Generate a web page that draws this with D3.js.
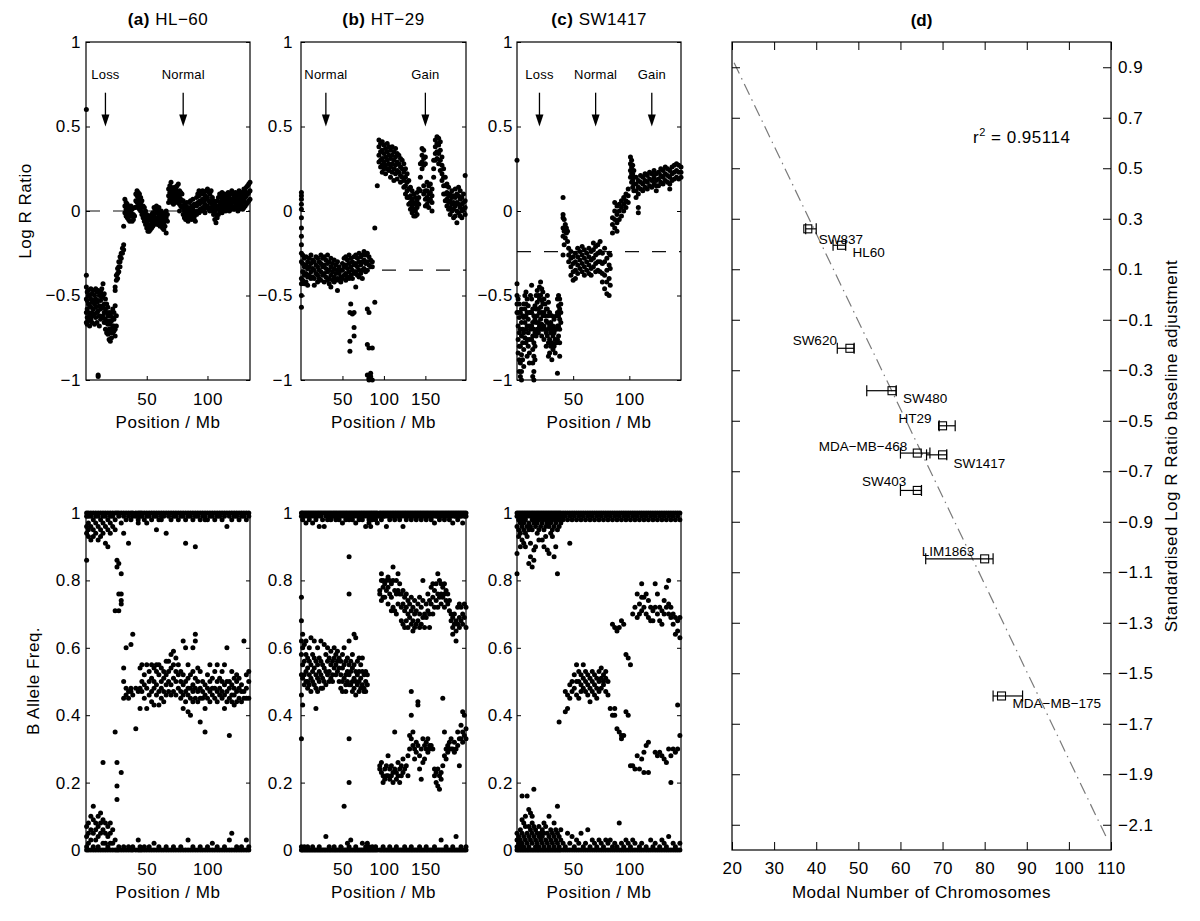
<!DOCTYPE html>
<html><head><meta charset="utf-8">
<script src="https://cdn.jsdelivr.net/npm/d3@7"></script>
<style>body{margin:0;background:#fff}</style>
</head><body>
<svg id="c" width="1200" height="921"></svg>
<script>
// ---------------- DATA ----------------
// Log R Ratio rows: [position Mb, values...]
const lrrA = [
[0.3,0.6,-0.38,-0.45,-0.52,-0.6,-0.66],[1,-0.48,-0.53,-0.58,-0.63,-0.67],[2,-0.47,-0.5,-0.55,-0.6,-0.65],
[3,-0.5,-0.56,-0.62,-0.68],[4,-0.46,-0.52,-0.57,-0.64],[5,-0.49,-0.54,-0.6,-0.66],[6,-0.47,-0.53,-0.58,-0.62],
[7,-0.5,-0.55,-0.61,-0.67],[8,-0.46,-0.52,-0.57,-0.63],[9,-0.48,-0.54,-0.6,-0.66],[10,-0.47,-0.53,-0.59,-0.97,-0.98],
[11,-0.5,-0.56,-0.62,-0.68],[12,-0.48,-0.53,-0.58,-0.64],[13,-0.46,-0.51,-0.57,-0.63],[14,-0.43,-0.5,-0.56,-0.62],
[15,-0.49,-0.55,-0.6,-0.66],[16,-0.52,-0.58,-0.64,-0.7],[17,-0.55,-0.6,-0.66,-0.72],[18,-0.57,-0.62,-0.67,-0.73],
[19,-0.6,-0.65,-0.7,-0.76],[20,-0.62,-0.67,-0.72,-0.77],[21,-0.6,-0.65,-0.7,-0.75],[22,-0.58,-0.63,-0.68,-0.72],
[23,-0.6,-0.64,-0.68,-0.71],[24,-0.45,-0.47,-0.56,-0.7,-0.74],[25,-0.38,-0.41,-0.62,-0.68],[26,-0.34,-0.37,-0.4],
[27,-0.3,-0.33,-0.36],[28,-0.27,-0.3,-0.33],[29,-0.25,-0.28],[30,-0.22,-0.25],[31,-0.2,-0.23,-0.09],
[32,0.07,0.03,-0.01],[33,0.05,0.01,-0.03],[34,0.04,0,-0.04],[35,0.02,-0.02,-0.05],[36,0,-0.03,-0.06],
[37,0.03,-0.01],[38,0.01,-0.03,-0.06],[39,-0.02,-0.05],[40,0.02,-0.03],[41,0.1,0.06,0.02],[42,0.12,0.09,0.05],
[43,0.11,0.07,0.03],[44,0.1,0.06,0.01],[45,0.08,0.04,0],[46,0.06,0.02,-0.02],[47,0.03,-0.01,-0.04],
[48,0.02,-0.03,-0.06],[49,0,-0.04,-0.08],[50,-0.02,-0.06,-0.1],[51,-0.04,-0.08,-0.12],[52,-0.05,-0.09,-0.12],
[53,-0.03,-0.08,-0.11],[54,-0.02,-0.06,-0.1],[55,-0.01,-0.05,-0.09],[56,0.02,-0.03,-0.08],[57,0.01,-0.04,-0.07],
[58,0.03,-0.01,-0.05],[59,0,-0.04,-0.08],[60,0.02,-0.03,-0.07],[61,-0.01,-0.05,-0.09],[62,0,-0.04,-0.08],
[63,-0.02,-0.06,-0.1],[64,-0.03,-0.07,-0.11],[65,-0.01,-0.05,-0.09],[66,0,-0.04,-0.13],[67,-0.02,-0.06],
[68,0.05,0.09,0.13],[69,0.07,0.11,0.15],[70,0.06,0.1,0.14,0.17],[71,0.05,0.09,0.13],[72,0.04,0.08,0.12],
[73,0.06,0.1,0.14],[74,0.05,0.09,0.13],[75,0.07,0.11,0.15],[76,0.06,0.1,0.16],[77,0,0.04,0.08,0.12],
[78,0.03,0.07,0.11],[79,0.02,0.06,0.1],[80,-0.02,0.02,0.06],[81,-0.04,0,0.04],[82,-0.05,-0.01,0.03],
[83,-0.03,0.01,0.05],[84,-0.06,-0.02,0.02],[85,-0.04,0,0.05],[86,-0.03,0.01,0.06],[87,-0.05,-0.01,0.03],
[88,-0.02,0.02,0.07],[89,-0.04,0,0.04],[90,-0.06,-0.01,0.04],[91,-0.02,0.03,0.08],[92,0,0.05,0.1],
[93,-0.01,0.04,0.09,0.12],[94,0.01,0.06,0.11],[95,0,0.05,0.1],[96,0.02,0.07,0.12],[97,0.01,0.06,0.1],
[98,-0.01,0.04,0.09],[99,0.02,0.07,0.12],[100,0.03,0.08,0.13],[101,0.01,0.06,0.11],[102,0,0.05,0.1],
[103,0.02,0.06,0.12],[104,0,0.04,0.08],[105,-0.02,0.02,0.06],[106,-0.05,0,0.04],[107,-0.07,-0.02,0.03],
[108,-0.04,0.01,0.06],[109,-0.02,0.03,0.08],[110,0,0.05,0.1],[111,0.01,0.05,0.09],[112,-0.01,0.03,0.07,0.11],
[113,0,0.04,0.09],[114,0.02,0.06,0.1],[115,0,0.04,0.08],[116,0.01,0.05,0.09],[117,0.02,0.06,0.11],
[118,0,0.04,0.08],[119,0.01,0.05,0.1],[120,0.03,0.07,0.12],[121,0.02,0.06,0.1],[122,0.01,0.05,0.09],
[123,0.03,0.07,0.11],[124,0.02,0.06,0.1],[125,0,0.04,0.08],[126,0.01,0.05,0.09,0.12],[127,0.02,0.06,0.1],
[128,0.03,0.07,0.11],[129,0.01,0.05,0.09],[130,0.02,0.06,0.1,0.13],[131,0.03,0.08,0.12],[132,0.04,0.09,0.14],
[133,0.05,0.1,0.15],[134,0.06,0.11,0.16],[135,0.07,0.12,0.17]
];
const lrrB = [
[0.5,0.11,0.09,0.07,0.04,0.01,-0.04,-0.1,-0.15,-0.2,-0.25,-0.3,-0.4,-0.43,-0.5,-0.57],
[2,-0.26,-0.31,-0.36,-0.41],[4,-0.28,-0.33,-0.38,-0.43],[6,-0.27,-0.32,-0.37,-0.42],[8,-0.3,-0.34,-0.39,-0.44],
[10,-0.28,-0.33,-0.38],[12,-0.26,-0.31,-0.36,-0.4],[14,-0.29,-0.34,-0.39],[16,-0.3,-0.35,-0.4,-0.44],
[18,-0.27,-0.32,-0.37],[20,-0.28,-0.33,-0.38,-0.42],[22,-0.3,-0.35,-0.4],[24,-0.26,-0.31,-0.36,-0.41],
[26,-0.28,-0.33,-0.38],[28,-0.27,-0.32,-0.37,-0.42],[30,-0.29,-0.34,-0.39],[32,-0.26,-0.31,-0.36,-0.41],
[34,-0.3,-0.35,-0.4,-0.43],[36,-0.28,-0.33,-0.38,-0.45],[38,-0.31,-0.36,-0.41],[40,-0.29,-0.34,-0.39,-0.42],
[42,-0.32,-0.37,-0.41],[44,-0.3,-0.35,-0.4,-0.47],[46,-0.33,-0.37,-0.41],[48,-0.35,-0.39,-0.42],
[50,-0.31,-0.35,-0.4],[52,-0.28,-0.33,-0.38],[54,-0.27,-0.32,-0.37,-0.41],[56,-0.29,-0.34,-0.39],
[58,-0.26,-0.31,-0.36,-0.4],[59,-0.6,-0.77,-0.83],[60,-0.28,-0.33,-0.38,-0.55],[62,-0.3,-0.35,-0.4,-0.61],
[64,-0.27,-0.32,-0.37,-0.6,-0.69,-0.74],[66,-0.26,-0.31,-0.36,-0.45],[68,-0.28,-0.33,-0.38],
[70,-0.25,-0.3,-0.35,-0.39],[72,-0.27,-0.32,-0.37],[74,-0.26,-0.3,-0.35,-0.4],[76,-0.24,-0.29,-0.34],
[78,-0.26,-0.31,-0.36],[80,-0.25,-0.3,-0.35,-0.58,-0.79,-0.97],[82,-0.27,-0.32,-0.6,-0.81,-0.99,-1],
[84,-0.29,-0.33,-0.98,-0.96],[86,-0.3,-0.33,-0.81,-1],[89,-0.1,-0.54],
[92,0.15],[94,0.42,0.38,0.33,0.29],[96,0.4,0.35,0.3,0.26],[98,0.41,0.36,0.31,0.27,0.23],[100,0.39,0.34,0.29,0.25],
[102,0.37,0.32,0.27,0.22],[104,0.4,0.35,0.3,0.25],[106,0.38,0.33,0.28,0.24],[108,0.36,0.31,0.26,0.2],
[110,0.38,0.33,0.28,0.23],[112,0.35,0.3,0.25,0.18],[114,0.37,0.32,0.27,0.22],[116,0.34,0.29,0.24,0.19],
[118,0.33,0.28,0.23],[120,0.31,0.26,0.21,0.17],[122,0.3,0.25,0.2],[124,0.28,0.23,0.18,0.14],
[126,0.25,0.2,0.15,0.1],[128,0.22,0.17,0.12,0.08],[130,0.18,0.13,0.08,0.04],[132,0.14,0.09,0.05,0.01],
[134,0.12,0.07,0.03,-0.01],[136,0.1,0.05,0.01,-0.03],[138,0.08,0.04,0,-0.03],[140,0.11,0.06,0.02,-0.02],
[142,0.13,0.08,0.04],[144,0.2,0.28,0.12],[146,0.37,0.33,0.29,0.25],[148,0.36,0.31,0.27,0.15,0.1],
[150,0.32,0.28,0.12,0.07,0.03],[152,0.17,0.12,0.08,0.04],[154,0.15,0.1,0.06,0.02],[156,0.16,0.11,0.07],
[158,0.13,0.09,0.05,0],[160,0.3,0.25,0.2],[162,0.42,0.38,0.34,0.3],[164,0.44,0.4,0.35,0.31],
[166,0.43,0.39,0.34,0.28],[168,0.41,0.36,0.3,0.24],[170,0.32,0.27,0.22,0.18],[172,0.25,0.2,0.15,0.1],
[174,0.2,0.15,0.1,0.06],[176,0.16,0.11,0.07,0.03],[178,0.14,0.09,0.05,0.01],[180,0.1,0.06,0.02,-0.02],
[182,0.12,0.08,0.04,0],[184,0.09,0.05,0.01,-0.04],[186,0.13,0.08,0.03,-0.03],[188,0.1,0.05,0,-0.07],
[190,0.14,0.09,0.04,-0.01],[192,0.12,0.07,0.02,-0.03],[194,0.08,0.04,0,-0.04],[196,0.1,0.05,0.01],
[198,0.21,0.06,0.02,-0.02]
];
const lrrC = [
[0,0.3,-0.43,-0.5,-0.55,-0.6],[1,-0.52,-0.6,-0.68,-0.76,-0.84],[2,-0.55,-0.63,-0.72,-0.8,-0.88,-0.95],
[3,-0.6,-0.7,-0.8,-0.9,-0.98],[4,-0.58,-0.66,-0.74,-0.85,-0.95,-1],[5,-0.62,-0.7,-0.78,-0.88],
[6,-0.55,-0.63,-0.72,-0.82,-0.92],[7,-0.5,-0.58,-0.66,-0.75],[8,-0.48,-0.55,-0.62,-0.7,-0.78],
[9,-0.52,-0.6,-0.68,-0.76,-0.86],[10,-0.56,-0.64,-0.72,-0.8],[11,-0.6,-0.68,-0.76,-0.84,-0.9],
[12,-0.5,-0.6,-0.7],[13,-0.44,-0.52,-0.6,-0.68,-0.76],[14,-0.58,-0.66,-0.74,-0.82,-0.9,-0.98],
[15,-0.62,-0.7,-0.78,-0.86,-0.95,-1],[16,-0.56,-0.64,-0.72,-0.8,-0.88],[17,-0.5,-0.58,-0.66,-0.74],
[18,-0.47,-0.54,-0.62,-0.7],[19,-0.5,-0.58,-0.66,-0.72],[20,-0.45,-0.52,-0.6,-0.68],
[21,-0.42,-0.5,-0.57,-0.64,-0.7],[22,-0.46,-0.53,-0.6,-0.67,-0.74],[23,-0.48,-0.55,-0.62,-0.7],
[24,-0.52,-0.6,-0.68,-0.76],[25,-0.55,-0.62,-0.7],[26,-0.58,-0.65,-0.72,-0.8],[27,-0.5,-0.58,-0.66,-0.74],
[28,-0.54,-0.62,-0.7,-0.78,-0.86],[29,-0.6,-0.68,-0.76,-0.84],[30,-0.66,-0.72,-0.8],[31,-0.62,-0.7,-0.78,-0.88],
[32,-0.68,-0.74,-0.82],[33,-0.64,-0.72,-0.8],[34,-0.7,-0.76,-0.84],[35,-0.62,-0.7,-0.78],
[36,-0.52,-0.6,-0.68,-0.76,-0.96],[37,-0.5,-0.56,-0.62,-0.68,-0.74],[38,-0.52,-0.58,-0.64,-0.7,-0.78,-0.86],
[39,-0.55,-0.6,-0.66],[41,0.08,-0.02,-0.04,-0.1,-0.15,-0.26],[42,-0.05,-0.12,-0.2],[43,-0.08,-0.16],
[44,-0.1,-0.13],[45,-0.12,-0.18],[46,-0.22,-0.26,-0.3],[48,-0.24,-0.28,-0.33,-0.38],[50,-0.27,-0.31,-0.36,-0.41],
[52,-0.25,-0.3,-0.35,-0.4],[54,-0.22,-0.27,-0.32,-0.37],[56,-0.24,-0.29,-0.34],[58,-0.21,-0.26,-0.31,-0.36],
[60,-0.23,-0.28,-0.33,-0.38],[62,-0.25,-0.3,-0.35],[64,-0.22,-0.27,-0.32,-0.37],[66,-0.24,-0.29,-0.34,-0.38],
[68,-0.19,-0.23,-0.28,-0.33],[70,-0.21,-0.26,-0.31,-0.36],[72,-0.2,-0.25,-0.3,-0.35],[74,-0.18,-0.24,-0.3,-0.36],
[76,-0.25,-0.31,-0.37,-0.42],[78,-0.22,-0.3,-0.38,-0.46],[80,-0.28,-0.35,-0.42,-0.49],[82,-0.25,-0.32,-0.4,-0.5],
[83,-0.26,-0.34,-0.44],[85,-0.13,-0.08,-0.04],[87,-0.1,-0.05,0,0.05],[89,-0.12,-0.07,-0.02,0.03],
[91,-0.05,0,0.04],[93,-0.03,0.02,0.06],[95,0,0.04,0.08],[97,0.02,0.06,0.1],[99,0.05,0.09,0.13],
[101,0.32,0.28,0.24,0.2],[102,0.3,0.26,0.22,0.17],[103,0.27,0.22,0.18,0.14],[104,0.24,0.2,0.16,0.12],
[106,0.2,0.16,0.12,0.08],[108,0.18,0.14,0.1,0.02,-0.01],[110,0.21,0.17,0.13],[112,0.2,0.16,0.12],
[114,0.22,0.18,0.14],[116,0.21,0.17,0.13],[118,0.23,0.19,0.15],[120,0.22,0.18,0.14],[122,0.24,0.2,0.16],
[124,0.22,0.18,0.15,0.12],[126,0.23,0.19,0.15],[128,0.25,0.21,0.17],[130,0.24,0.2,0.16],[132,0.26,0.22,0.18],
[134,0.25,0.21,0.17],[136,0.24,0.2,0.16,0.13],[138,0.26,0.22,0.18],[140,0.27,0.23,0.19],[142,0.28,0.24,0.2],
[144,0.27,0.23,0.19],[146,0.26,0.23,0.2]
];
// B Allele Frequency rows: [position Mb, values...]
const bafA = [
[0.5,1,.99,.96,.94,.86,.07,.04,.01,0],[2,1,.99,.97,.95,.93,.08,.05,.02,0],[4,1,.99,.96,.92,.1,.06,.03,0],
[6,1,.98,.95,.93,.13,.09,.05,.01,0],[8,1,.99,.97,.94,.08,.06,.03,0],[10,1,.99,.96,.92,.1,.07,.04,.01,0],
[12,1,.98,.95,.93,.11,.08,.05,0],[14,1,.99,.97,.94,.26,.09,.06,.02,0],[16,1,.99,.96,.91,.08,.05,.02,0],
[18,1,.98,.95,.9,.07,.04,.01,0],[20,1,.99,.97,.94,.08,.05,.02,0],[22,1,.99,.96,.06,.02,0],
[24,1,.98,.95,.71,.35,.03,0],[25.5,1,.86,.84,.26,.19,.15,0],[27,1,.99,.85,.76,.71,.01,0],
[29,1,.97,.82,.76,.74,.73,.23,0],[31,1,.99,.94,.54,.5,.45,.01,0],[33,1,.98,.6,.48,.46,0],
[35,1,.99,.91,.47,.45,.01,0],[37,1,.98,.61,.48,.47,0],[38.5,1,.99,.64,.46,.01,0],[41,1,.99,.48,.36,0],
[43,1,.98,.97,.47,.03,0],[44.5,1,.99,.48,.54,.42,0,.01],[46,1,.99,.47,.5,.55,0],[48,1,.98,.45,.49,.52,.01,0],
[50,1,.99,.97,.42,.48,.55,0],[52,1,.99,.46,.5,.53,0,.01],[54,1,.98,.44,.47,.51,.55,0],
[56,1,.99,.43,.48,.5,.54,.02,0],[58,1,.99,.95,.46,.49,.53,.55,0],[60,1,.98,.43,.47,.52,.55,0,.01],
[62,1,.99,.98,.45,.48,.5,.54,0],[64,1,.99,.44,.47,.51,.53,0],[66,1,.94,.46,.49,.52,.56,.01,0],
[68,1,.99,.47,.5,.53,.56,0],[70,1,.98,.46,.49,.54,.58,0],[72,1,.99,.47,.51,.55,.59,0,.01],
[74,1,.99,.46,.5,.53,.57,0],[76,1,.98,.48,.52,.55,0],[78,1,.99,.45,.47,.5,.53,.01,0],
[80,1,.99,.42,.46,.49,.52,.62,0],[82,1,.98,.91,.44,.47,.5,.6,0],[84,1,.99,.41,.46,.48,.51,.55,.03,0],
[86,1,.99,.4,.45,.48,.52,0],[88,1,.98,.44,.47,.49,.53,.6,0,.01],[90,1,.99,.9,.45,.48,.51,.62,.64,0],
[92,1,.99,.44,.47,.5,.54,0],[94,1,.98,.38,.45,.48,.53,.01,0],[96,1,.99,.45,.47,.5,0],
[98,1,.99,.98,.35,.42,.46,.49,0],[100,1,.98,.45,.48,.52,.01,0],[102,1,.99,.44,.47,.5,.55,0],
[104,1,.99,.46,.48,.51,.02,0],[106,1,.98,.45,.48,.53,0],[108,1,.99,.44,.47,.5,.55,0,.01],
[110,1,.99,.46,.48,.51,0],[112,1,.98,.45,.47,.5,.53,0],[114,1,.99,.42,.46,.49,.55,.01,0],
[116,1,.96,.44,.47,.5,.6,0],[118,1,.99,.34,.45,.48,.5,.03,0],[120,1,.98,.44,.46,.49,.53,.05,0],
[122,1,.99,.43,.46,.48,.51,0],[124,1,.99,.44,.47,.5,.52,.01,0],[126,1,.98,.45,.48,.51,0],
[128,1,.99,.44,.47,.49,0,.01],[130,1,.99,.45,.47,.62,0],[132,1,.98,.45,.48,.52,.03,0],[134,1,.99,.45,.5,.53,.01,0]
];
const bafB = [
[0.5,1,.99,.75,.68,.62,.58,.52,.46,.33,.01,0],[2,1,.98,.64,.6,.55,.51,.43,0],[4,1,.99,.61,.56,.52,.49,0,.01],
[6,1,.97,.62,.58,.53,.5,0],[8,1,.99,.57,.54,.5,.48,.01,0],[10,1,.98,.6,.56,.52,.49,0],[12,1,.99,.63,.55,.51,.47,0],
[14,1,.97,.58,.53,.5,0,.01],[16,1,.99,.62,.57,.54,.49,0],[18,1,.98,.56,.52,.48,.42,0],[20,1,.99,.6,.55,.51,.47,0],
[22,1,.96,.57,.53,.5,0,.01],[24,1,.99,.62,.56,.52,.48,0],[26,1,.98,.55,.51,.48,0],[28,1,.96,.61,.54,.5,0],
[30,1,.99,.58,.53,.49,.04,0],[32,1,.98,.6,.56,.52,0],[34,1,.99,.57,.53,.5,.01,0],[36,1,.98,.59,.55,.51,0],
[38,1,.99,.56,.52,.5,0],[40,1,.99,.6,.57,.54,.01,0],[42,1,.98,.58,.55,.52,0],[44,1,.99,.59,.56,.53,0],
[46,1,.98,.57,.54,.5,0],[48,1,.99,.56,.52,.48,.01,0],[50,1,.97,.58,.54,.5,.47,0],[52,1,.99,.6,.55,.51,.13,0],
[54,1,.98,.56,.52,.49,.47,0],[56,1,.99,.57,.53,.5,.02,0],[58,1,.98,.87,.76,.62,.55,.52,.49,.33,.2,.01,0],
[60,1,.99,.56,.53,.49,.03,0],[62,1,.98,.58,.54,.5,.47,0],[64,1,.99,.64,.55,.51,.48,0],[66,1,.97,.63,.53,.5,.46,.01,0],
[68,1,.99,.56,.52,.49,0],[70,1,.98,.57,.53,.5,.47,0],[72,1,.99,.55,.51,.48,0],[74,1,.98,.57,.53,.49,.02,0],
[76,1,.99,.52,.48,.47,0],[78,1,.96,.53,.5,.47,.01,0],[80,1,.99,.52,.49,.02,0],[82,1,.98,.97,.01,0],
[84,1,.99,.96,0],[86,1,.99,.98,.01,0],[88,1,.99,0],[90,1,.98,.01,0],[92,1,.99,.97,0],
[95,1,.99,.77,.76,.24,.25,0],[97,1,.98,.8,.82,.74,.26,.23,0],[99,1,.99,.8,.78,.75,.22,.2,.01,0],
[101,1,.99,.79,.75,.24,.21,0],[103,1,.96,.8,.77,.25,.22,0],[105,1,.99,.81,.78,.73,.28,.22,0],
[107,1,.98,.8,.76,.24,.21,.01,0],[109,1,.99,.79,.75,.71,.25,.22,0],[111,1,.99,.84,.8,.72,.23,.2,0],
[113,1,.98,.77,.71,.35,.24,0],[115,1,.99,.8,.76,.7,.21,.23,.01,0],[117,1,.99,.82,.77,.73,.26,.22,0],
[119,1,.98,.79,.76,.24,.2,0],[121,1,.99,.76,.72,.68,.25,.22,0],[123,1,.96,.77,.73,.67,.27,.23,0],
[125,1,.99,.75,.71,.66,.24,.01,0],[127,1,.98,.76,.72,.68,.25,0],[129,1,.99,.74,.7,.66,.28,.22,0],
[131,1,.99,.73,.69,.34,.3,0],[133,1,.98,.75,.71,.67,.47,.4,.33,.01,0],[135,1,.99,.72,.68,.65,.35,.31,0],
[137,1,.99,.74,.7,.66,.3,.27,0],[139,1,.98,.71,.67,.32,.29,0],[141,1,.99,.73,.68,.44,.43,.31,0],
[143,1,.99,.75,.7,.66,.28,.24,.01,0],[145,1,.98,.72,.67,.3,.21,0],[147,1,.99,.8,.74,.69,.33,.26,0],
[149,1,.99,.7,.66,.31,.27,0],[151,1,.98,.73,.69,.32,.3,.01,0],[153,1,.99,.76,.71,.33,.29,0],
[155,1,.99,.74,.7,.66,.31,.3,0],[157,1,.98,.78,.73,.31,0],[159,1,.99,.79,.75,.7,.3,0],
[161,1,.97,.77,.72,.24,.22,.01,0],[163,1,.99,.79,.74,.23,.2,0],[165,1,.99,.82,.76,.72,.24,.19,0],
[167,1,.98,.8,.75,.22,.18,0],[169,1,.99,.79,.76,.73,.23,.21,.03,0],[171,1,.99,.78,.75,.45,.25,0],
[173,1,.98,.79,.76,.72,.35,.28,0],[175,1,.99,.77,.74,.3,.27,.01,0],[177,1,.99,.76,.73,.31,.29,0],
[179,1,.98,.74,.71,.32,.3,0],[181,1,.99,.7,.68,.33,.3,0],[183,1,.97,.69,.66,.64,.3,.01,0],
[185,1,.99,.7,.67,.32,.29,0],[187,1,.99,.68,.65,.62,.3,.04,0],[189,1,.98,.72,.67,.35,.31,0],
[191,1,.99,.73,.69,.66,.33,.25,0],[193,1,.99,.72,.68,.37,.33,.01,0],[195,1,.97,.7,.67,.41,.35,.32,0],
[197,1,.99,.73,.69,.4,.34,0],[199,1,.99,.72,.66,.36,.33,.01,0]
];
const bafC = [
[0,1,.99,.96,.88,.82,.05,.03,.01,0],[1.5,1,.98,.95,.93,.04,.02,0],[3,1,.99,.97,.94,.9,.06,.03,.01,0],
[4.5,1,.98,.96,.92,.16,.09,.05,.02,0],[6,1,.99,.97,.95,.91,.08,.04,.01,0],[7.5,1,.98,.94,.9,.1,.07,.03,0],
[9,1,.99,.96,.93,.16,.05,.02,0],[10.5,1,.97,.95,.85,.12,.07,.04,.01,0],[12,1,.99,.96,.91,.87,.11,.06,.03,0],
[13.5,1,.98,.95,.84,.1,.08,.05,.02,0],[15,1,.99,.97,.89,.86,.18,.07,.04,0],[16.5,1,.98,.96,.9,.06,.03,.01,0],
[18,1,.99,.97,.94,.05,.02,0],[19.5,1,.98,.95,.92,.07,.04,.01,0],[21,1,.99,.96,.05,.03,0],
[22.5,1,.98,.97,.92,.06,.04,.02,0],[24,1,.99,.95,.9,.08,.05,.01,0],[25.5,1,.98,.96,.93,.07,.03,0],
[27,1,.99,.97,.89,.05,.02,0],[28.5,1,.98,.96,.88,.1,.04,.01,0],[30,1,.99,.97,.94,.06,.03,0],
[31.5,1,.98,.95,.93,.05,.02,0],[33,1,.99,.96,.87,.08,.04,.01,0],[34.5,1,.98,.97,.9,.06,.03,0],
[36,1,.99,.95,.82,.13,.05,.02,0],[37.5,1,.98,.96,.38,.04,.01,0],[39,1,.99,.97,.06,.03,0],[41,1,.99,.98,.02,0],
[43,1,.99,.47,.41,.01,0],[45,1,.98,.46,.42,.05,0],[47,1,.99,.91,.49,.45,.02,0],[49,1,.98,.5,.47,.04,0],
[51,1,.99,.52,.48,.01,0],[53,1,.98,.55,.5,.46,.03,0],[55,1,.99,.53,.5,.45,.02,0],[57,1,.98,.52,.49,.47,.05,0],
[59,1,.99,.55,.51,.48,.01,0],[61,1,.98,.53,.5,.47,.02,0],[63,1,.99,.52,.49,.46,.06,0],[65,1,.98,.51,.48,.44,.01,0],
[67,1,.99,.53,.5,.47,.03,0],[69,1,.98,.52,.49,.46,.02,0],[71,1,.99,.51,.48,.45,.01,0],[73,1,.98,.53,.5,.47,.03,0],
[75,1,.99,.54,.51,.48,.02,0],[77,1,.98,.52,.5,.49,.01,0],[79,1,.99,.53,.51,.47,.03,0],[81,1,.98,.5,.46,.02,0],
[83,1,.99,.42,.03,0],[85,1,.98,.67,.4,.01,0],[87,1,.99,.66,.4,.42,.02,0],[89,1,.98,.65,.36,.01,0],
[91,1,.99,.66,.35,.08,0],[93,1,.98,.68,.34,.33,.02,0],[95,1,.99,.67,.34,.01,0],[97,1,.98,.58,.41,.03,0],
[99,1,.99,.57,.4,.02,0],[101,1,.98,.55,.25,.01,0],[103,1,.99,.7,.25,.03,0],[105,1,.98,.72,.24,.02,0],
[107,1,.99,.76,.69,.28,0],[109,1,.98,.73,.7,.24,.01,0],[111,1,.99,.79,.75,.71,.27,.02,0],
[113,1,.98,.75,.72,.29,.23,0],[115,1,.99,.76,.7,.31,.01,0],[117,1,.98,.74,.69,.32,.23,0],
[119,1,.99,.72,.68,.03,0],[121,1,.98,.71,.68,.01,0],[123,1,.99,.79,.72,.29,.02,0],[125,1,.98,.76,.7,.28,0],
[127,1,.99,.72,.68,.29,.01,0],[129,1,.98,.71,.67,.28,.03,0],[131,1,.99,.74,.7,.27,.02,0],
[133,1,.98,.78,.72,.26,.01,0],[135,1,.99,.8,.73,.7,.3,.04,0],[137,1,.98,.72,.69,.2,.28,0],
[139,1,.99,.7,.67,.3,.02,0],[141,1,.98,.69,.64,.29,.01,0],[143,1,.99,.68,.65,.43,.3,0],[145,1,.98,.69,.63,.34,.02,0]
];
// panel titles / annotations
const panelLetters = ["(a)", "(b)", "(c)"];
const panelNames = ["HL\u221260", "HT\u221229", "SW1417"];
const chrLength = [135, 199, 146];
const lrrBaselines = [0, -0.35, -0.24];
const arrowPos = [[16, 80], [30, 150], [20, 70, 120]];
const arrowLab = [["Loss", "Normal"], ["Normal", "Gain"], ["Loss", "Normal", "Gain"]];
const lrrTicks = [-1, -0.5, 0, 0.5, 1];
const bafTicks = [0, 0.2, 0.4, 0.6, 0.8, 1];
const posTicks = [[50, 100], [50, 100, 150], [50, 100]];
// panel (d)
const cellLines = ["SW837", "HL60", "SW620", "SW480", "HT29", "MDA\u2212MB\u2212468", "SW1417", "SW403", "LIM1863", "MDA\u2212MB\u2212175"];
const modalNum = [38, 46, 48, 58, 70, 64, 70, 64, 80, 84];
const modalLo = [37.5, 44, 45, 52, 69.2, 60, 66.2, 60, 66, 82];
const modalHi = [40, 47, 49, 59, 73, 67, 71, 65, 82, 89];
const baselineAdj = [0.26, 0.195, -0.213, -0.381, -0.52, -0.628, -0.635, -0.776, -1.047, -1.59];
const modalTicks = [20, 30, 40, 50, 60, 70, 80, 90, 100, 110];
const adjTicks = [0.9, 0.7, 0.5, 0.3, 0.1, -0.1, -0.3, -0.5, -0.7, -0.9, -1.1, -1.3, -1.5, -1.7, -1.9, -2.1];
const regSlope = -0.0347, regIntercept = 1.629, regRange = [20.5, 109];
const rSquared = "0.95114";

// ---------------- LAYOUT ----------------
const FONT = '"Liberation Sans", Arial, Helvetica, sans-serif';
const LS = "0.5px";
const colX = [[86, 250], [301, 466], [517, 681]];
const labPad = [5, 8, 4];
const topY = [380, 42], botY = [850, 513];
// label placement offsets for panel (d) [dx, dy, anchor]
const labOff = [[11, 15, "start"], [11, 12, "start"], [-13, -3, "end"], [11, 12, "start"], [-11, -3, "end"],
  [-10, -2, "end"], [11, 13, "start"], [-11, -4, "end"], [-63, -3, "start"], [11, 12, "start"]];

const svg = d3.select("#c");
const fmt = d => (d < 0 ? "\u2212" : "") + Math.abs(d);

function styleAxis(sel, size) {
  sel.attr("font-family", FONT).attr("font-size", size).style("letter-spacing", LS);
  sel.select(".domain").remove();
  sel.selectAll("line").attr("stroke", "#000");
  sel.selectAll("text").attr("fill", "#000");
}

function scatterPanel(i, rows, yRange, yDomain, yTicks, baseline, xlabelY) {
  const x = d3.scaleLinear().domain([0, chrLength[i]]).range(colX[i]);
  const y = d3.scaleLinear().domain(yDomain).range(yRange);
  const g = svg.append("g");
  if (baseline !== null) {
    g.append("line").attr("x1", colX[i][0]).attr("x2", colX[i][1])
      .attr("y1", y(baseline)).attr("y2", y(baseline))
      .attr("stroke", "#111").attr("stroke-width", 1.2).attr("stroke-dasharray", "14,13");
  }
  const pts = rows.flatMap(r => r.slice(1).map(v => [r[0], v]));
  g.append("g").selectAll("circle").data(pts).join("circle")
    .attr("cx", d => x(d[0])).attr("cy", d => y(d[1])).attr("r", 2.5).attr("fill", "#000");
  g.append("rect").attr("x", colX[i][0]).attr("y", yRange[1])
    .attr("width", colX[i][1] - colX[i][0]).attr("height", yRange[0] - yRange[1])
    .attr("fill", "none").attr("stroke", "#000").attr("stroke-width", 1.2);
  g.append("g").attr("transform", `translate(${colX[i][0]},0)`)
    .call(d3.axisLeft(y).tickValues(yTicks).tickFormat(fmt).tickSize(-4).tickPadding(labPad[i]))
    .call(s => styleAxis(s, 17));
  g.append("g").attr("transform", `translate(${colX[i][1]},0)`)
    .call(d3.axisRight(y).tickValues(yTicks).tickFormat("").tickSize(-4))
    .call(s => styleAxis(s, 17));
  g.append("g").attr("transform", `translate(0,${yRange[0]})`)
    .call(d3.axisBottom(x).tickValues(posTicks[i]).tickFormat(d3.format("d")).tickSize(-4).tickPadding(13))
    .call(s => styleAxis(s, 17));
  g.append("text").attr("x", (colX[i][0] + colX[i][1]) / 2).attr("y", xlabelY)
    .attr("text-anchor", "middle").attr("font-family", FONT).attr("font-size", 17).style("letter-spacing", LS)
    .text("Position / Mb");
  return {x, y, g};
}

const lrrRows = [lrrA, lrrB, lrrC];
const bafRows = [bafA, bafB, bafC];
for (let i = 0; i < 3; i++) {
  const p = scatterPanel(i, lrrRows[i], topY, [-1, 1], lrrTicks, lrrBaselines[i], 428);
  // arrows
  arrowPos[i].forEach((pos, k) => {
    const ax = p.x(pos), tip = p.y(0.5), top = p.y(0.7);
    p.g.append("line").attr("x1", ax).attr("x2", ax).attr("y1", top).attr("y2", tip - 8)
      .attr("stroke", "#000").attr("stroke-width", 1.3);
    p.g.append("path").attr("d", `M${ax},${tip} L${ax - 4},${tip - 12} L${ax + 4},${tip - 12} Z`).attr("fill", "#000");
    p.g.append("text").attr("x", ax).attr("y", p.y(0.78)).attr("text-anchor", "middle")
      .attr("font-family", FONT).attr("font-size", 13).style("letter-spacing", "0.2px").text(arrowLab[i][k]);
  });
  // title
  const t = svg.append("text").attr("x", (colX[i][0] + colX[i][1]) / 2).attr("y", 25)
    .attr("text-anchor", "middle").attr("font-family", FONT).attr("font-size", 17).style("letter-spacing", LS);
  t.append("tspan").attr("font-weight", "bold").text(panelLetters[i]);
  t.append("tspan").text(" " + panelNames[i]);
  scatterPanel(i, bafRows[i], botY, [0, 1], bafTicks, null, 898);
}
// y labels
svg.append("text").attr("transform", "translate(30.5,211) rotate(-90)").attr("text-anchor", "middle")
  .attr("font-family", FONT).attr("font-size", 17).style("letter-spacing", LS).text("Log R Ratio");
svg.append("text").attr("transform", "translate(38.5,681) rotate(-90)").attr("text-anchor", "middle")
  .attr("font-family", FONT).attr("font-size", 17).style("letter-spacing", LS).text("B Allele Freq.");

// ---------------- PANEL (d) ----------------
const dx = d3.scaleLinear().domain([20, 110]).range([732, 1111]);
const dy = d3.scaleLinear().domain([-2.2, 1.0]).range([850, 42]);
const gd = svg.append("g");
gd.append("line").attr("x1", dx(regRange[0])).attr("x2", dx(regRange[1]))
  .attr("y1", dy(regIntercept + regSlope * regRange[0])).attr("y2", dy(regIntercept + regSlope * regRange[1]))
  .attr("stroke", "#7a7a7a").attr("stroke-width", 1.2).attr("stroke-dasharray", "12,5,1.5,5");
gd.append("rect").attr("x", 732).attr("y", 42).attr("width", 1111 - 732).attr("height", 850 - 42)
  .attr("fill", "none").attr("stroke", "#000").attr("stroke-width", 1.2);
gd.append("g").attr("transform", "translate(0,850)")
  .call(d3.axisBottom(dx).tickValues(modalTicks).tickFormat(d3.format("d")).tickSize(-8).tickPadding(12))
  .call(s => styleAxis(s, 17));
gd.append("g").attr("transform", "translate(0,42)")
  .call(d3.axisTop(dx).tickValues(modalTicks).tickFormat("").tickSize(-8))
  .call(s => styleAxis(s, 17));
gd.append("g").attr("transform", "translate(1111,0)")
  .call(d3.axisRight(dy).tickValues(adjTicks).tickFormat(fmt).tickSize(-8).tickPadding(7))
  .call(s => styleAxis(s, 17));
gd.append("g").attr("transform", "translate(732,0)")
  .call(d3.axisLeft(dy).tickValues(adjTicks).tickFormat("").tickSize(-8))
  .call(s => styleAxis(s, 17));
// error bars + squares
cellLines.forEach((name, k) => {
  const cy = dy(baselineAdj[k]), x0 = dx(modalLo[k]), x1 = dx(modalHi[k]), cx = dx(modalNum[k]);
  gd.append("line").attr("x1", x0).attr("x2", x1).attr("y1", cy).attr("y2", cy).attr("stroke", "#000").attr("stroke-width", 1.2);
  [x0, x1].forEach(xx => gd.append("line").attr("x1", xx).attr("x2", xx).attr("y1", cy - 5.5).attr("y2", cy + 5.5)
    .attr("stroke", "#000").attr("stroke-width", 1.2));
  gd.append("rect").attr("x", cx - 4).attr("y", cy - 4).attr("width", 8).attr("height", 8)
    .attr("fill", "none").attr("stroke", "#000").attr("stroke-width", 1.1);
  gd.append("text").attr("x", cx + labOff[k][0]).attr("y", cy + labOff[k][1]).attr("text-anchor", labOff[k][2])
    .attr("font-family", FONT).attr("font-size", 13.5).text(name);
});
const rt = gd.append("text").attr("x", 973).attr("y", 143).attr("font-family", FONT).attr("font-size", 17).style("letter-spacing", LS);
rt.append("tspan").text("r");
rt.append("tspan").attr("dy", -7).attr("font-size", 11).text("2");
rt.append("tspan").attr("dy", 7).text(" = " + rSquared);
svg.append("text").attr("x", 921.5).attr("y", 26).attr("text-anchor", "middle").attr("font-family", FONT)
  .attr("font-size", 17).attr("font-weight", "bold").text("(d)");
svg.append("text").attr("x", 921.5).attr("y", 898).attr("text-anchor", "middle").attr("font-family", FONT)
  .attr("font-size", 17).style("letter-spacing", LS).text("Modal Number of Chromosomes");
svg.append("text").attr("transform", "translate(1176.5,446) rotate(-90)").attr("text-anchor", "middle")
  .attr("font-family", FONT).attr("font-size", 17).style("letter-spacing", LS).text("Standardised Log R Ratio baseline adjustment");
</script>
</body></html>
